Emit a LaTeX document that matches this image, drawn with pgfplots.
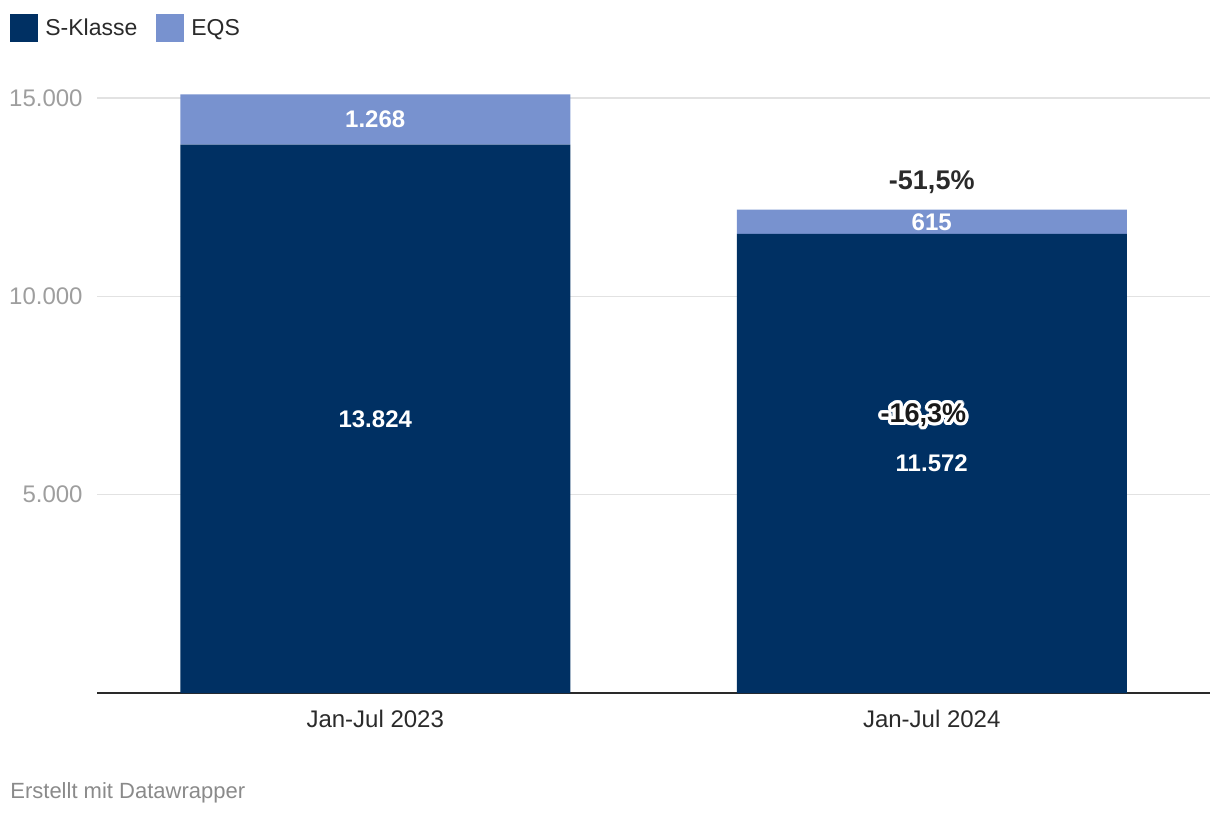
\documentclass[border=0pt]{standalone}
\usepackage{fontspec}
\setmainfont{Liberation Sans}
\usepackage{pgfplots}
\pgfplotsset{compat=1.18}
\definecolor{navy}{HTML}{003063}
\definecolor{eqs}{HTML}{7892CF}
\definecolor{ticklab}{HTML}{9E9E9E}
\definecolor{catlab}{HTML}{2A2A2A}
\definecolor{foot}{HTML}{8A8A8A}
\definecolor{gridc}{HTML}{E2E2E2}
\begin{document}
\begin{tikzpicture}
\path[use as bounding box] (0pt,0pt) rectangle (610pt,408pt);
\begin{scope}[x=0.5pt,y=0.5pt]
% legend
\fill[navy] (10,774) rectangle (38,802);
\node[anchor=base west, inner sep=0pt, font=\fontsize{11.5}{13}\selectfont, text=catlab] at (45,780) {S-Klasse};
\fill[eqs] (156,774) rectangle (184,802);
\node[anchor=base west, inner sep=0pt, font=\fontsize{11.5}{13}\selectfont, text=catlab] at (191,780) {EQS};
% footer
\node[anchor=base west, inner sep=0pt, font=\fontsize{11}{13}\selectfont, text=foot] at (10,18) {Erstellt mit Datawrapper};
\end{scope}
\begin{axis}[
  at={(48.5pt,61.5pt)}, anchor=south west, scale only axis,
  width=556.5pt, height=300.5pt,
  xmin=-0.5, xmax=1.5, ymin=0, ymax=15150,
  ybar stacked, bar width=195pt,
  axis lines*=left,
  y axis line style={draw=none},
  x axis line style={draw=catlab, line width=1pt, -},
  ymajorgrids, grid style={draw=gridc, line width=0.8pt},
  ytick={5000,10000,15000},
  xtick={0,1}, xticklabels={Jan-Jul 2023, Jan-Jul 2024},
  major tick length=0pt,
  scaled y ticks=false,
  /pgf/number format/assume math mode=true,
  /pgf/number format/1000 sep={.},
  yticklabel style={font=\fontsize{12}{14}\selectfont, text=ticklab, anchor=east, inner sep=0pt, xshift=-7pt},
  xticklabel style={font=\fontsize{12}{14}\selectfont, text=catlab, anchor=base, inner sep=0pt, yshift=-17pt},
  clip=false,
]
\addplot[fill=navy, draw=none] coordinates {(0,13824) (1,11572)};
\addplot[fill=eqs, draw=none] coordinates {(0,1268) (1,615)};
\coordinate (l1) at (axis cs:0,6912);
\coordinate (l2) at (axis cs:0,14458);
\coordinate (l3) at (axis cs:1,5786);
\coordinate (l4) at (axis cs:1,11879.5);
\coordinate (l5) at (axis cs:1,12864);
\coordinate (l6) at (axis cs:0.985,7000);
\end{axis}
\tikzset{vl/.style={font=\bfseries\fontsize{12}{14}\selectfont, text=white, inner sep=0pt}}
\node[vl] at (l1) {13.824};
\node[vl] at (l2) {1.268};
\node[vl] at (l3) {11.572};
\node[vl] at (l4) {615};
\node[font=\bfseries\fontsize{13.5}{16}\selectfont, text=catlab, inner sep=0pt] at (l5) {-51,5\%};
\foreach \r in {0.8pt,1.6pt}{
\foreach \a in {0,20,...,340}{
  \node[font=\bfseries\fontsize{13.5}{16}\selectfont, text=white, inner sep=0pt, shift={(\a:\r)}] at (l6) {-16,3\%};
}}
\node[font=\bfseries\fontsize{13.5}{16}\selectfont, text=black!90, inner sep=0pt] at (l6) {-16,3\%};
\end{tikzpicture}
\end{document}
